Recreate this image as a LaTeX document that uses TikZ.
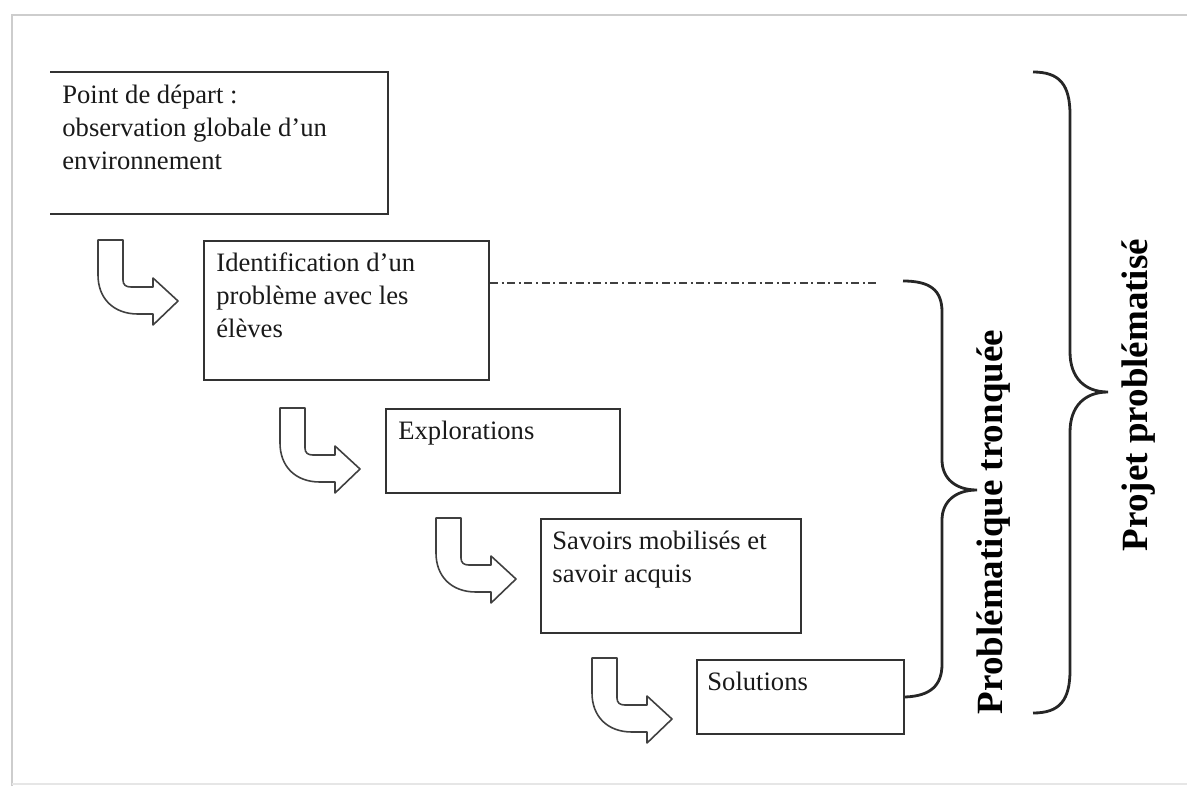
\documentclass[tikz,border=0pt]{standalone}
\usepackage{fontspec}
\setmainfont{Liberation Serif}
\usepackage{tikz}
\usetikzlibrary{positioning, calc}

\definecolor{boxgray}{RGB}{50,50,50}
\definecolor{framegray}{RGB}{205,205,205}

\tikzset{
    turnarrow/.pic={
        \draw[arrowline] (0,0) -- (25,0) -- (25,40) .. controls (25,45) and (28,47) .. (33,47)
            -- (55,47) -- (55,38) -- (80,61) -- (55,85) -- (55,74) -- (40,74)
            .. controls (15,74) and (0,58) .. (0,35) -- cycle;
    }
}

\begin{document}
\begin{tikzpicture}[
    x=0.5pt, y=-0.5pt,
    box/.style={rectangle, draw=boxgray, line width=1pt, anchor=north west, inner sep=0pt},
    boxtext/.style={font=\fontsize{13.3}{16.5}\selectfont, align=left, inner sep=0pt, anchor=north west, text=black!90},
    arrowline/.style={draw=black!75, line width=0.8pt, line join=round},
    bracepath/.style={draw=black!85, line width=1.4pt},
    bracelabel/.style={font=\fontsize{18.5}{22}\selectfont\bfseries, rotate=90},
    dashdot/.style={draw=black!75, line width=0.9pt, dash pattern=on 4pt off 1.8pt on 1pt off 1.8pt},
    frameline/.style={draw=framegray, line width=1pt}
]
\useasboundingbox (0,0) rectangle (1187,786);

\draw[frameline] (12,786) -- (12,15) -- (1187,15);
\draw[frameline, draw=framegray!50] (12,784) -- (1187,784);

% boxes
\node[box, draw=none, minimum width=168pt, minimum height=70pt] (b1) at (50,72) {};
\draw[boxgray, line width=1pt] (b1.north west) -- (b1.north east) -- (b1.south east) -- (b1.south west);
\node[box, minimum width=142.5pt, minimum height=69.5pt] (b2) at (203,240) {};
\node[box, minimum width=117pt, minimum height=42pt] (b3) at (385,408) {};
\node[box, minimum width=130pt, minimum height=57pt] (b4) at (540,518) {};
\node[box, minimum width=103.5pt, minimum height=37pt] (b5) at (696,659) {};

\node[boxtext] (t1) at ([shift={(12,8)}]b1.north west) {\strut Point de départ :\\observation globale d’un\\environnement};
\node[boxtext] (t2) at ([shift={(13,8)}]b2.north west) {\strut Identification d’un\\problème avec les\\élèves};
\node[boxtext] (t3) at ([shift={(13,8)}]b3.north west) {\strut Explorations};
\node[boxtext] (t4) at ([shift={(12,8)}]b4.north west) {\strut Savoirs mobilisés et\\savoir acquis};
\node[boxtext] (t5) at ([shift={(11,8)}]b5.north west) {\strut Solutions};

% turning arrows
\pic at ([xshift=-52.5pt]b2.north west) {turnarrow};
\pic at ([xshift=-52.5pt]b3.north west) {turnarrow};
\pic at ([xshift=-52pt]b4.north west) {turnarrow};
\pic at ([xshift=-52pt,yshift=0.5pt]b5.north west) {turnarrow};

% dash-dot line and braces
\coordinate (dashend) at (878,283);
\coordinate (stop) at (903,281);
\draw[dashdot] ([yshift=-21.5pt]b2.north east) -- (dashend);

\draw[bracepath] (stop) .. controls (930,281) and (942,290) .. (942,312) -- (942,460)
    .. controls (942,478) and (955,490) .. (977,490)
    .. controls (955,490) and (942,502) .. (942,520) -- (942,664)
    .. controls (942,686) and (930,696) .. (b5.east);

\coordinate (btop) at (1033,72);
\coordinate (bbot) at (1033,713);
\draw[bracepath] (btop) .. controls (1060,72) and (1070,85) .. (1070,115) -- (1070,352)
    .. controls (1070,378) and (1085,392) .. (1108,392)
    .. controls (1085,392) and (1070,406) .. (1070,432) -- (1070,670)
    .. controls (1070,700) and (1060,713) .. (bbot);

\node[bracelabel] (lab1) at (994,522) {Problématique tronquée};
\node[bracelabel] (lab2) at (1139,395) {Projet problématisé};

\end{tikzpicture}
\end{document}
